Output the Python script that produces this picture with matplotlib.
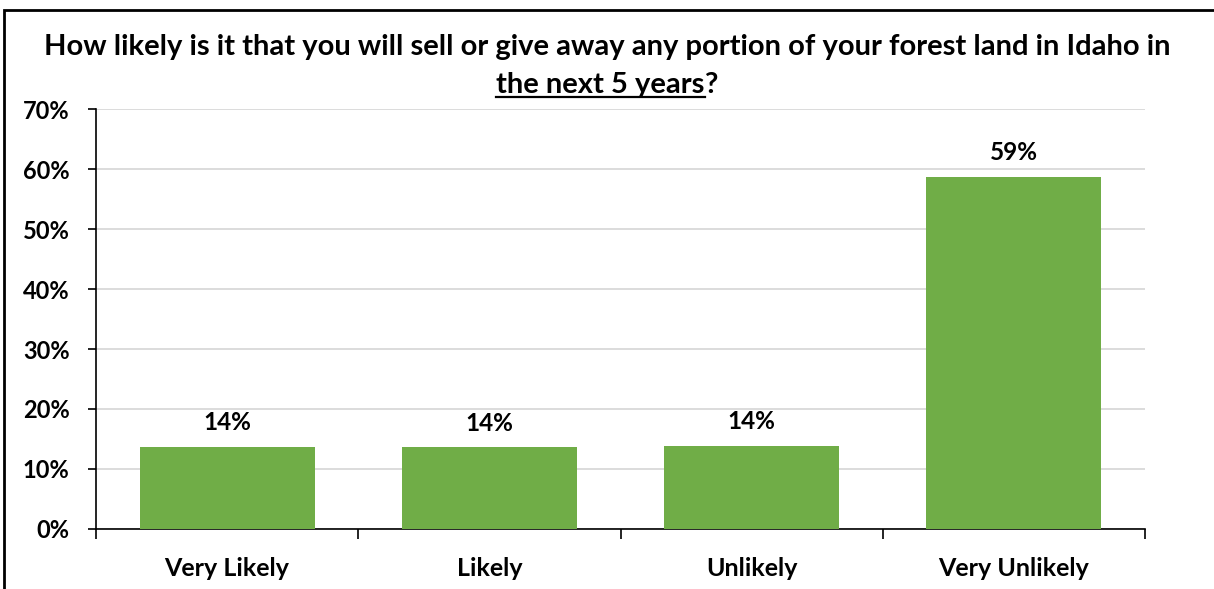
import numpy as np
import matplotlib.pyplot as plt
from matplotlib.patches import Rectangle
from matplotlib.lines import Line2D

# Survey responses (share of respondents, %)
categories = ['Very Likely', 'Likely', 'Unlikely', 'Very Unlikely']
shares = [13.7, 13.6, 13.9, 58.7]
yticks = [0, 10, 20, 30, 40, 50, 60, 70]

plt.rcParams['font.family'] = ['Lato', 'DejaVu Sans']
plt.rcParams['font.weight'] = 'bold'

W, H = 1214, 589
fig = plt.figure(figsize=(W / 100, H / 100), dpi=100)
ax = fig.add_axes([96 / W, 1 - 529 / H, (1145 - 96) / W, (529 - 109) / H])

x = np.arange(len(categories))
bars = ax.bar(x, shares, width=0.667, color='#70AD47', zorder=3)

for b, v in zip(bars, shares):
    ax.annotate(f'{v:.0f}%', (b.get_x() + b.get_width() / 2, v),
                xytext=(0, 9), textcoords='offset points',
                ha='center', va='bottom', fontsize=17.5, fontweight='bold')

ax.set_xlim(-0.5, len(categories) - 0.5)
ax.set_ylim(0, 70)
ax.set_yticks(yticks)
ax.set_yticklabels([f'{t}%' for t in yticks], fontsize=17, fontweight='bold')
ax.yaxis.grid(True, color='#D9D9D9', linewidth=1.3, zorder=0)
ax.set_axisbelow(True)

# category labels centred, ticks on the boundaries
ax.set_xticks(x)
ax.set_xticklabels(categories, fontsize=18, fontweight='bold')
ax.tick_params(axis='x', length=0, pad=20)
ax.set_xticks(np.arange(-0.5, len(categories)), minor=True)
ax.tick_params(axis='x', which='minor', length=7, width=1.2, direction='out')
ax.tick_params(axis='y', length=6, width=1.2, pad=13)

for s in ['top', 'right']:
    ax.spines[s].set_visible(False)
ax.spines['left'].set_linewidth(1.2)
ax.spines['bottom'].set_linewidth(1.2)

# title, second line partly underlined
tsize = 21
fig.text(0.5, 1 - 47 / H, 'How likely is it that you will sell or give away any portion of your forest land in Idaho in',
         ha='center', va='center', fontsize=tsize, fontweight='bold')

fig.canvas.draw()
r = fig.canvas.get_renderer()
part1 = fig.text(0, 0, 'the next 5 years', fontsize=tsize, fontweight='bold', va='baseline')
part2 = fig.text(0, 0, '?', fontsize=tsize, fontweight='bold', va='baseline')
w1 = part1.get_window_extent(r).width
w2 = part2.get_window_extent(r).width
x0 = (W - (w1 + w2)) / 2
base = H - 93
part1.set_position((x0 / W, base / H))
part2.set_position(((x0 + w1) / W, base / H))
fig.add_artist(Line2D([x0 / W, (x0 + w1) / W], [(base - 4) / H] * 2,
                      color='black', linewidth=1.6))

# frame around the chart
fig.add_artist(Rectangle((4 / W, -0.1), 1.2, 1.1 - 10 / H, transform=fig.transFigure,
                         fill=False, edgecolor='black', linewidth=2))

fig.savefig('out.png', dpi=100)
